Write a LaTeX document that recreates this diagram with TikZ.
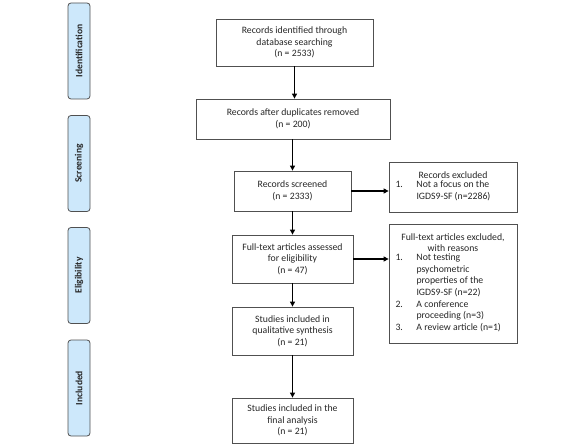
\documentclass[tikz,border=0pt]{standalone}
\usepackage{fontspec}
\setmainfont{Carlito}
\usetikzlibrary{arrows.meta}
\definecolor{sidefill}{HTML}{CDE8FB}
\definecolor{boxline}{HTML}{505050}
\tikzset{
  x=1bp, y=-1bp,
  every node/.style={font=\fontsize{9.8}{11.6}\selectfont, inner sep=0pt, text=black!85},
  side/.style={draw=boxline, line width=0.8bp, fill=sidefill, rounded corners=3bp,
    minimum width=96bp, minimum height=22bp, rotate=90, font=\fontsize{9.6}{11.5}\selectfont\bfseries},
  flowbox/.style={draw=boxline, line width=0.8bp, align=center},
  arr/.style={draw=black, line width=1.1bp, -{Triangle[length=5bp,width=5bp]}}
}
\begin{document}
\begin{tikzpicture}
\useasboundingbox (0,0) rectangle (586,446);
% side labels
\node[side] (s1) at (79,51) {Identification};
\node[side] (s2) at (79,163.5) {Screening};
\node[side] (s3) at (79,275.5) {Eligibility};
\node[side] (s4) at (79,388) {Included};
% main boxes
\node[flowbox, minimum width=157bp, minimum height=47bp] (b1) at (294.5,42.5)
  {Records identified through\\database searching\\(n = 2533)};
\node[flowbox, minimum width=194bp, minimum height=40bp] (b2) at (293,119)
  {Records after duplicates removed\\(n = 200)};
\node[flowbox, minimum width=117bp, minimum height=40bp] (b3) at (292.5,191)
  {Records screened\\(n = 2333)};
\node[flowbox, minimum width=121bp, minimum height=48bp] (b4) at (292.5,259)
  {Full-text articles assessed\\for eligibility\\(n = 47)};
\node[flowbox, minimum width=121bp, minimum height=48bp] (b5) at (292.5,331)
  {Studies included in\\qualitative synthesis\\(n = 21)};
\node[flowbox, minimum width=121bp, minimum height=45bp] (b6) at (292.5,420.5)
  {Studies included in the\\final analysis\\(n = 21)};
% right boxes
\node[flowbox, minimum width=128bp, minimum height=50bp] (r1) at (453,187)
  {\begin{minipage}{116bp}\centering Records excluded\par
   \begin{tabular}{@{}p{21bp}@{}p{94bp}@{}}
   1. & \raggedright Not a focus on the IGDS9-SF (n=2286)\tabularnewline
   \end{tabular}\end{minipage}};
\node[flowbox, minimum width=128bp, minimum height=119bp] (r2) at (453,283.5)
  {\begin{minipage}{116bp}\centering Full-text articles excluded,\\ with reasons\par
   \begin{tabular}{@{}p{21bp}@{}p{94bp}@{}}
   1. & \raggedright Not testing psychometric properties of the IGDS9-SF (n=22)\tabularnewline
   2. & \raggedright A conference proceeding (n=3)\tabularnewline
   3. & \raggedright A review article (n=1)\tabularnewline
   \end{tabular}\end{minipage}};
% arrows
\draw[arr] (b1.south) -- (b1.south |- b2.north);
\draw[arr] (b2.south -| b3.north) -- (b3.north);
\draw[arr] (b3.south) -- (b3.south |- b4.north);
\draw[arr] (b4.south) -- (b4.south |- b5.north);
\draw[arr] (b5.south) -- (b5.south |- b6.north);
\draw[arr] (b3.east) -- (b3.east -| r1.west);
\draw[arr] (b4.east) -- (b4.east -| r2.west);
\end{tikzpicture}
\end{document}
